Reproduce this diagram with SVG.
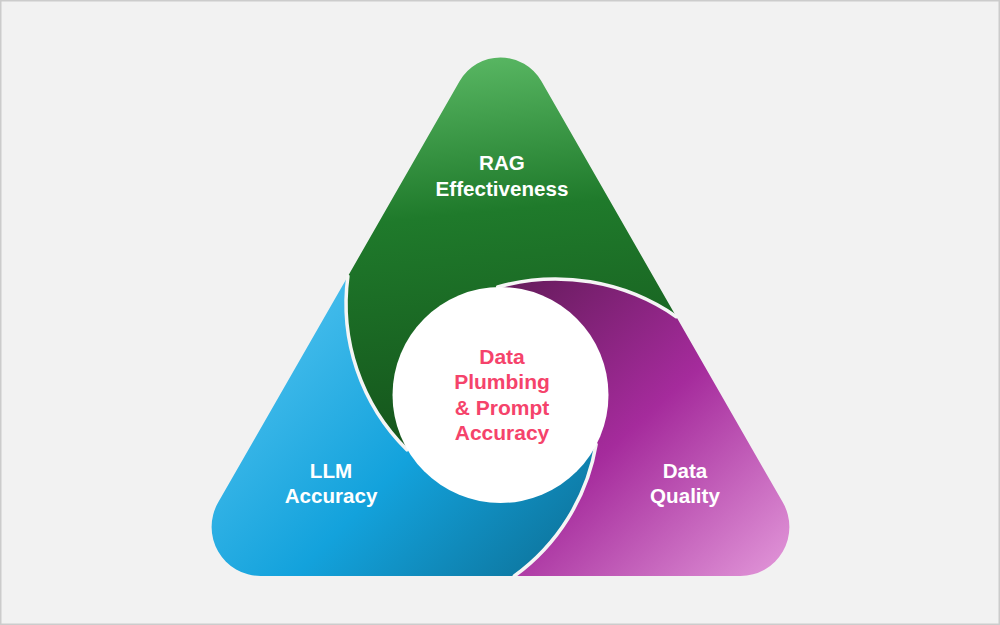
<svg xmlns="http://www.w3.org/2000/svg" width="1000" height="625" viewBox="0 0 1000 625">
  <style>
    .lbl { font-family: "Liberation Sans", Arial, sans-serif; font-weight: bold; font-size: 20.6px; fill: #ffffff; text-anchor: middle; }
    .ctr { font-family: "Liberation Sans", Arial, sans-serif; font-weight: bold; font-size: 21px; fill: #f5436b; text-anchor: middle; }
    .div { fill: none; stroke: #f5f5f5; stroke-width: 3.5; stroke-linecap: round; }
  </style>
  <defs>
    <linearGradient id="gGreen" gradientUnits="userSpaceOnUse" x1="500" y1="55" x2="540" y2="460">
      <stop offset="0" stop-color="#58b662"/>
      <stop offset="0.38" stop-color="#1f7a2b"/>
      <stop offset="1" stop-color="#14511a"/>
    </linearGradient>
    <linearGradient id="gBlue" gradientUnits="userSpaceOnUse" x1="300" y1="300" x2="600" y2="590">
      <stop offset="0" stop-color="#46bdec"/>
      <stop offset="0.45" stop-color="#13a2dc"/>
      <stop offset="1" stop-color="#0c6a8e"/>
    </linearGradient>
    <linearGradient id="gPurple" gradientUnits="userSpaceOnUse" x1="520" y1="285" x2="790" y2="585">
      <stop offset="0" stop-color="#691c5f"/>
      <stop offset="0.45" stop-color="#a52b9c"/>
      <stop offset="1" stop-color="#e59cdc"/>
    </linearGradient>
  </defs>

  <rect x="0.75" y="0.75" width="998.5" height="623.5" fill="#f2f2f2" stroke="#cccccc" stroke-width="1.5"/>

  <g id="node-rag">
    <path d="M 347.9,276.2 L 459.7,81.1 A 47 47 0 0 1 541.3,81.1 L 676.3,316.7 A 212 212 0 0 0 497.7,287 L 406.9,449.8 A 206 206 0 0 1 347.9,276.2 Z" fill="url(#gGreen)"/>
    <text class="lbl" x="502" y="170">RAG</text>
    <text class="lbl" x="502" y="195.5">Effectiveness</text>
  </g>

  <g id="node-llm">
    <path d="M 514.3,576 L 260.6,576 A 49 49 0 0 1 218.1,502.6 L 347.9,276.2 A 206 206 0 0 0 406.9,449.8 L 596.1,444.4 A 205 205 0 0 1 514.3,576 Z" fill="url(#gBlue)"/>
    <text class="lbl" x="331" y="477.5">LLM</text>
    <text class="lbl" x="331" y="503">Accuracy</text>
  </g>

  <g id="node-quality">
    <path d="M 676.3,316.7 L 782.9,502.6 A 49 49 0 0 1 740.4,576 L 514.3,576 A 205 205 0 0 0 596.1,444.4 L 497.7,287 A 212 212 0 0 1 676.3,316.7 Z" fill="url(#gPurple)"/>
    <text class="lbl" x="685" y="477.5">Data</text>
    <text class="lbl" x="685" y="503">Quality</text>
  </g>

  <g id="connectors">
    <path class="div" d="M 347.9,276.2 A 206 206 0 0 0 406.9,449.8"/>
    <path class="div" d="M 514.3,576 A 205 205 0 0 0 596.1,444.4"/>
    <path class="div" d="M 676.3,316.7 A 212 212 0 0 0 497.7,287"/>
  </g>

  <g id="node-center">
    <circle cx="500.5" cy="395" r="108" fill="#ffffff"/>
    <text class="ctr" x="502" y="363.5">Data</text>
    <text class="ctr" x="502" y="389">Plumbing</text>
    <text class="ctr" x="502" y="414.5">&amp; Prompt</text>
    <text class="ctr" x="502" y="440">Accuracy</text>
  </g>
</svg>
